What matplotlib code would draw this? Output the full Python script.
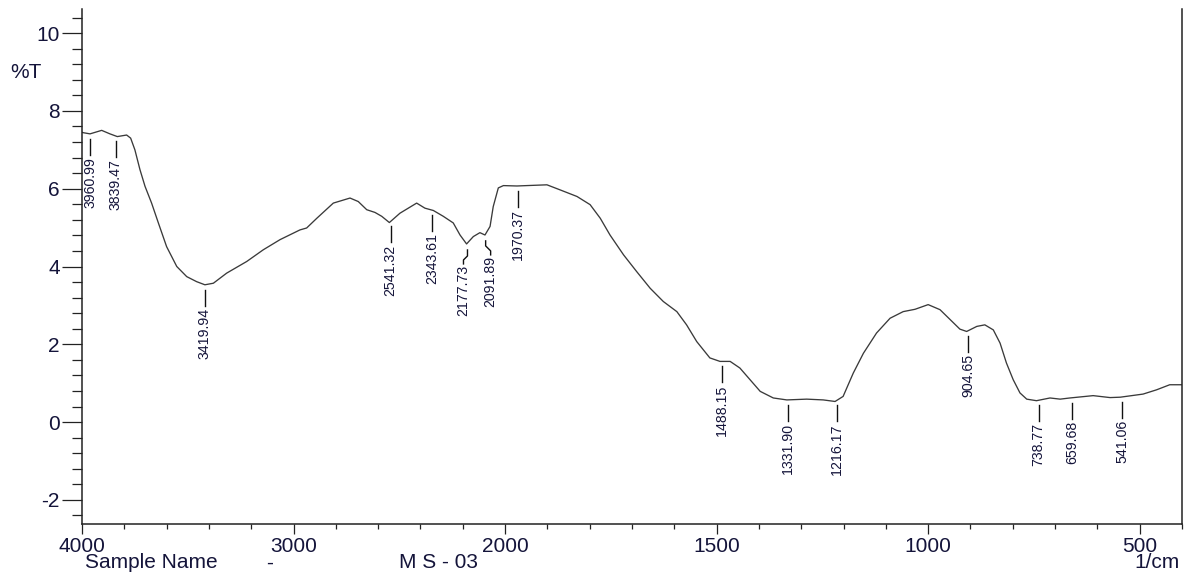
import numpy as np
import matplotlib
matplotlib.use("Agg")
import matplotlib.pyplot as plt
import matplotlib.transforms as mtransforms
from matplotlib.lines import Line2D
from matplotlib.ticker import FixedLocator, FixedFormatter

# ---------------- data ----------------
wavenumber = [4000, 3994, 3962, 3907, 3868, 3833, 3789, 3770, 3750, 3726, 3702, 3671,
              3639, 3600, 3552, 3505, 3458, 3419, 3379, 3316, 3221, 3143, 3064, 2970,
              2938, 2890, 2812, 2733, 2694, 2654, 2615, 2583, 2547, 2497, 2418, 2379,
              2339, 2292, 2245, 2213, 2182, 2150, 2119, 2095, 2071, 2056, 2032, 2008,
              1972, 1949, 1901, 1870, 1830, 1799, 1775, 1752, 1720, 1689, 1657, 1626,
              1594, 1571, 1547, 1516, 1492, 1468, 1445, 1421, 1397, 1366, 1334, 1287,
              1248, 1220, 1201, 1177, 1153, 1122, 1090, 1059, 1031, 1000, 972, 940,
              925, 909, 885, 866, 846, 830, 815, 799, 783, 767, 744, 712, 688, 665,
              610, 570, 546, 492, 460, 429, 401]
transmittance = [7.45, 7.44, 7.41, 7.50, 7.41, 7.34, 7.38, 7.30, 7.00, 6.49, 6.06, 5.63,
                 5.12, 4.51, 4.00, 3.74, 3.61, 3.53, 3.57, 3.83, 4.13, 4.43, 4.69, 4.94,
                 4.99, 5.24, 5.63, 5.76, 5.67, 5.46, 5.39, 5.29, 5.13, 5.37, 5.63, 5.50,
                 5.44, 5.29, 5.12, 4.81, 4.58, 4.77, 4.87, 4.81, 5.03, 5.54, 6.02, 6.08,
                 6.07, 6.08, 6.10, 5.97, 5.80, 5.59, 5.24, 4.81, 4.30, 3.87, 3.44, 3.10,
                 2.84, 2.50, 2.07, 1.65, 1.56, 1.56, 1.39, 1.09, 0.79, 0.62, 0.57, 0.59,
                 0.57, 0.53, 0.66, 1.26, 1.77, 2.29, 2.67, 2.84, 2.90, 3.02, 2.89, 2.55,
                 2.39, 2.33, 2.46, 2.50, 2.37, 2.03, 1.52, 1.09, 0.75, 0.59, 0.55, 0.62,
                 0.59, 0.62, 0.68, 0.63, 0.64, 0.72, 0.83, 0.96, 0.96]

peak_positions = [3960.99, 3839.47, 3419.94, 2541.32, 2343.61, 2177.73, 2091.89, 1970.37,
                  1488.15, 1331.90, 1216.17, 904.65, 738.77, 659.68, 541.06]
peak_labels = ["3960.99", "3839.47", "3419.94", "2541.32", "2343.61", "2177.73", "2091.89",
               "1970.37", "1488.15", "1331.90", "1216.17", "904.65", "738.77", "659.68", "541.06"]

x_major_ticks = [4000, 3000, 2000, 1500, 1000, 500]
x_major_labels = ["4000", "3000", "2000", "1500", "1000", "500"]
x_minor_ticks = [3800, 3600, 3400, 3200, 2800, 2600, 2400, 2200,
                 1900, 1800, 1700, 1600, 1400, 1300, 1200, 1100,
                 900, 800, 700, 600, 400]
y_major_ticks = [-2, 0, 2, 4, 6, 8, 10]
y_major_labels = ["-2", "0", "2", "4", "6", "8", "10"]

# ---------------- scale (half scale above 2000 1/cm) ----------------
def fwd(x):
    x = np.asarray(x, dtype=float)
    return np.where(x >= 2000, 1600 + (x - 2000) / 2.0, x - 400)

def inv(u):
    u = np.asarray(u, dtype=float)
    return np.where(u >= 1600, 2000 + (u - 1600) * 2.0, u + 400)

W, H = 1188, 575
fig = plt.figure(figsize=(W / 100, H / 100), dpi=100)
ax = fig.add_axes([82 / W, (H - 524) / H, (1182 - 82) / W, (524 - 9) / H])
ax.set_xscale('function', functions=(fwd, inv))
ax.set_xlim(4000, 400)
ax.set_ylim(-2.62, 10.62)

ax.plot(wavenumber, transmittance, color='#3a3a3a', lw=0.95)

ink = '#14143a'
tickfont = dict(family=['Liberation Sans', 'DejaVu Sans'], size=15)

ax.xaxis.set_major_locator(FixedLocator(x_major_ticks))
ax.xaxis.set_major_formatter(FixedFormatter(x_major_labels))
ax.xaxis.set_minor_locator(FixedLocator(x_minor_ticks))
ax.yaxis.set_major_locator(FixedLocator(y_major_ticks))
ax.yaxis.set_major_formatter(FixedFormatter(y_major_labels))
ax.yaxis.set_minor_locator(FixedLocator(list(np.arange(-2.4, 10.5, 0.4))))

ax.tick_params(axis='y', which='major', length=14.4, width=0.9, pad=1.5, colors='#222222', labelcolor=ink)
ax.tick_params(axis='y', which='minor', length=7.2, width=0.9, colors='#222222')
ax.tick_params(axis='x', which='major', length=7.2, width=0.9, pad=2, colors='#222222', labelcolor=ink)
ax.tick_params(axis='x', which='minor', length=3.3, width=0.9, colors='#222222')
for lab in ax.get_xticklabels() + ax.get_yticklabels():
    lab.set_fontfamily(tickfont['family'])
    lab.set_fontsize(tickfont['size'])

ax.spines['top'].set_visible(False)
for s in ('left', 'bottom', 'right'):
    ax.spines[s].set_linewidth(1.1)
    ax.spines[s].set_color('#222222')

# ---------------- peak labels ----------------
wn_arr = np.array(wavenumber)[::-1]
tr_arr = np.array(transmittance)[::-1]
labfont = ['Liberation Sans Narrow', 'Liberation Sans', 'DejaVu Sans']

special = {
    "2177.73": dict(line=[(0, -7), (0, -13), (-4, -17), (-4, -21)], text=(-4, -22)),
    "2091.89": dict(line=[(0, -7), (0, -12), (5, -17), (5, -21)], text=(5, -22)),
}

for p, lab in zip(peak_positions, peak_labels):
    yv = float(np.interp(p, wn_arr, tr_arr))
    X0, Y0 = ax.transData.transform((p, yv))
    if lab in special:
        pts = special[lab]['line']
        tdx, tdy = special[lab]['text']
    else:
        pts = [(0, -5), (0, -21)]
        tdx, tdy = 0, -23
    xs = [X0 + a for a, b in pts]
    ys = [Y0 + b for a, b in pts]
    ln = Line2D(xs, ys, color='#111111', lw=1.0, transform=mtransforms.IdentityTransform())
    ln.set_clip_on(False)
    ax.add_artist(ln)
    ax.annotate(lab, xy=(p, yv), xytext=(tdx, tdy), textcoords='offset pixels',
                rotation=90, ha='center', va='top', fontsize=10.2,
                family=labfont, color=ink)

# ---------------- other texts ----------------
fig.text(10 / W, 1 - 73 / H, '%T', ha='left', va='center', fontsize=15,
         family=['Liberation Sans', 'DejaVu Sans'], color=ink)
fig.text(85 / W, 1 - 563 / H, 'Sample Name', ha='left', va='center', fontsize=15,
         family=['Liberation Sans', 'DejaVu Sans'], color=ink)
fig.text(270 / W, 1 - 563 / H, '-', ha='center', va='center', fontsize=15,
         family=['Liberation Sans', 'DejaVu Sans'], color=ink)
fig.text(478 / W, 1 - 563 / H, 'M S - 03', ha='right', va='center', fontsize=15,
         family=['Liberation Sans', 'DejaVu Sans'], color=ink)
fig.text(1180 / W, 1 - 563 / H, '1/cm', ha='right', va='center', fontsize=15,
         family=['Liberation Sans', 'DejaVu Sans'], color=ink)

fig.savefig('out.png', dpi=100)
